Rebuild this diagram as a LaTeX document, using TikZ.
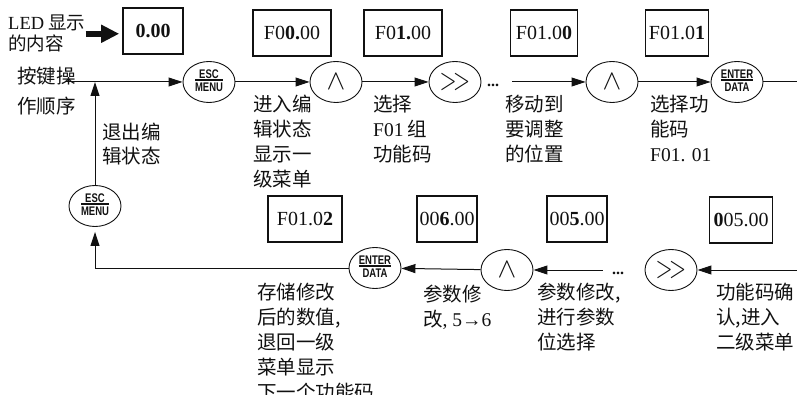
\documentclass[tikz,border=0pt]{standalone}
\usepackage{fontspec}
\setmainfont{Liberation Serif}
\newfontfamily\cjk{Noto Sans CJK SC}
\newfontfamily\keyfont{Liberation Sans}
\usepackage{tikz}
\usetikzlibrary{arrows.meta,shapes.geometric}
\definecolor{Ink}{HTML}{111111}
\newcommand\lat[1]{{\rmfamily #1}}
\newcommand\keycap[2]{\scalebox{0.76}[1]{\keyfont\bfseries\fontsize{12.5}{12.5}\selectfont%
  \setlength\arrayrulewidth{1.3pt}\renewcommand\arraystretch{0.8}%
  \begin{tabular}{@{}c@{}}#1\\[-2pt]\hline\rule{0pt}{10.5pt}#2\end{tabular}}}
\newcommand\upkey{\scalebox{2.8}{$\wedge$}}
\newcommand\shiftkey{\scalebox{2.2}[3]{$>\!>$}}
\tikzset{
  lcd/.style={draw=Ink,line width=1.6pt,minimum height=46pt,inner sep=0pt,text=Ink,font=\fontsize{20}{20}\selectfont},
  key/.style={ellipse,draw=Ink,line width=0.9pt,minimum width=52pt,minimum height=41pt,inner sep=0pt,text=Ink},
  flow/.style={-{Triangle[length=14pt,width=9pt]},line width=1pt,draw=Ink},
  fat/.style={-{Triangle[length=18pt,width=17pt]},line width=6pt,draw=Ink},
  note/.style={anchor=north west,inner sep=0pt,align=left,text=Ink,font=\cjk\fontsize{19.5}{25}\selectfont},
  dots/.style={inner sep=0pt,text=Ink,font=\bfseries\fontsize{16}{16}\selectfont}
}

\begin{document}
\begin{tikzpicture}[x=1pt,y=-1pt]
  \useasboundingbox (0,0) rectangle (797,395);
  % legend on the left
  \node[note,font=\cjk\fontsize{18.5}{21}\selectfont] (led) at (8,15) {\lat{LED} 显示\\的内容};
  \node[note] (seq) at (17,67) {按键操\\[5pt]作顺序};
  \node[note,font=\cjk\fontsize{19.5}{24}\selectfont] (exit) at (102,123) {退出编\\辑状态};
  % top row: displays
  \node[lcd,minimum width=60pt,font=\bfseries\fontsize{20}{20}\selectfont] (b0) at (153,31) {0.00};
  \node[lcd,minimum width=78pt] (b1) at (292,33) {F0\textbf{0.}00};
  \node[lcd,minimum width=78pt] (b2) at (403,33) {F0\textbf{1.}00};
  \node[lcd,minimum width=67pt] (b3) at (544,33) {F01.0\textbf{0}};
  \node[lcd,minimum width=63pt] (b4) at (677,33) {F01.0\textbf{1}};
  % top row: keys
  \node[key] (esc1) at (209,82) {\keycap{ESC}{MENU}};
  \node[key] (up1) at (336,82) {\upkey};
  \node[key] (ff1) at (455,82) {\shiftkey};
  \node[dots] (dots1) at (493,85) {...};
  \node[key] (up2) at (612,82) {\upkey};
  \node[key] (enter1) at (737,82) {\keycap{ENTER}{DATA}};
  % top row: notes
  \node[note] (n1) at (253,95) {进入编\\辑状态\\显示一\\级菜单};
  \node[note] (n2) at (373,95) {选择\\\lat{F01} 组\\功能码};
  \node[note] (n3) at (505,95) {移动到\\要调整\\的位置};
  \node[note] (n4) at (650,95) {选择功\\能码\\\lat{F01.\,\,01}};
  % bottom row: displays
  \node[lcd,minimum width=74pt] (c1) at (305,219) {F01.0\textbf{2}};
  \node[lcd,minimum width=60pt] (c2) at (447,219) {00\textbf{6}.00};
  \node[lcd,minimum width=60pt] (c3) at (577,219) {00\textbf{5}.00};
  \node[lcd,minimum width=63pt] (c4) at (741,220) {\textbf{0}05.00};
  % bottom row: keys
  \node[key] (esc2) at (95,206) {\keycap{ESC}{MENU}};
  \node[key] (enter2) at (375,268) {\keycap{ENTER}{DATA}};
  \node[key] (up3) at (507,270) {\upkey};
  \node[dots] (dots2) at (618,273) {...};
  \node[key] (ff2) at (671,270) {\shiftkey};
  % bottom row: notes
  \node[note] (m1) at (257,283) {存储修改\\后的数值,\\退回一级\\菜单显示\\下一个功能码};
  \node[note] (m2) at (423,285) {参数修\\改\lat{, 5→6}};
  \node[note] (m3) at (537,283) {参数修改,\\进行参数\\位选择};
  \node[note] (m4) at (716,283) {功能码确\\认,进入\\二级菜单};
  % free ends
  \coordinate (in) at (65,82);
  \coordinate (join) at (95,82);
  \coordinate (outT) at (797,82);
  \coordinate (inB) at (797,270);
  % connectors
  \draw[fat,shorten >=3pt] (led.east) -- (b0.west |- led.east);
  \draw[flow] (in) -- (esc1);
  \draw[flow] (esc1) -- (up1);
  \draw[flow] (up1) -- (ff1);
  \draw[flow,shorten <=13pt] (dots1.east |- up2) -- (up2);
  \draw[flow] (up2) -- (enter1);
  \draw[line width=1pt,draw=Ink] (enter1) -- (outT);
  \draw[flow] (inB) -- (ff2);
  \draw[flow,shorten <=9pt] (dots2.west |- up3) -- (up3);
  \draw[flow] (up3) -- (enter2);
  \draw[flow,shorten >=5pt] (enter2) -| (esc2);
  \draw[flow] (esc2) -- (join);
\end{tikzpicture}
\end{document}
